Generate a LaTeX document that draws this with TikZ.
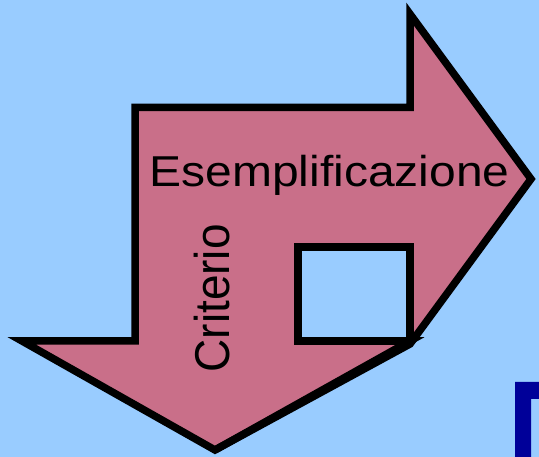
\documentclass[tikz,border=0pt]{standalone}
\usepackage{fontspec}
\usepackage{graphicx}
\setmainfont{Liberation Sans}
\definecolor{bgblue}{RGB}{153,204,255}
\definecolor{arrowpink}{RGB}{201,111,137}
\definecolor{darkblue}{RGB}{0,0,153}
\tikzset{
  outline/.style={draw=black, line width=7.5pt, miter limit=10, line join=miter},
  labeltext/.style={inner sep=0pt, outer sep=0pt, text=black},
}
\begin{document}
\begin{tikzpicture}[x=1pt,y=-1pt]
\fill[bgblue] (0,0) rectangle (539,457);
\useasboundingbox (0,0) rectangle (539,457);
% bent arrow
\draw[outline, fill=arrowpink] (22,341) -- (135,341) -- (135,107.5) -- (410,107.5) -- (410,14) -- (531,179) -- (410,344) -- (215,450) -- cycle;
% hole
\draw[outline, fill=bgblue] (298,247) rectangle (410,341);
% right wing of the down arrow (miter spike)
\draw[outline] (298,341) -- (410,341) -- (215,450);
% dark blue shape at bottom right
\fill[darkblue] (515,382) -- (539,382) -- (539,399) -- (531,399) -- (531,457) -- (515,457) -- cycle;
% labels
\node[labeltext, anchor=base west, font=\fontsize{48}{48}\selectfont] (esem) at (149.5,187) {\scalebox{1}[0.9]{Esemplificazione}};
\node[labeltext, anchor=base west, rotate=90, font=\fontsize{46}{46}\selectfont] (crit) at (229.5,372.5) {\scalebox{1}[1.063]{Criterio}};
\end{tikzpicture}
\end{document}
